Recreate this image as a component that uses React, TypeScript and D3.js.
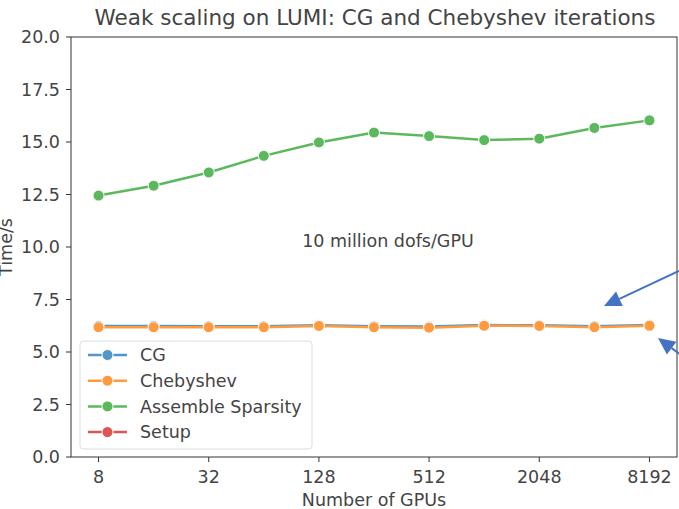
import React, { useEffect, useRef } from "react";
import * as d3 from "d3";

const gpus = [8, 16, 32, 64, 128, 256, 512, 1024, 2048, 4096, 8192];
const cgTimes = [6.24, 6.24, 6.23, 6.23, 6.27, 6.23, 6.21, 6.28, 6.27, 6.23, 6.29];
const chebTimes = [6.18, 6.18, 6.18, 6.18, 6.24, 6.18, 6.16, 6.25, 6.24, 6.18, 6.25];
const assembleTimes = [12.45, 12.92, 13.55, 14.34, 14.98, 15.45, 15.28, 15.09, 15.16, 15.67, 16.03];
const setupTimes: number[] = [];
const xTicks = [8, 32, 128, 512, 2048, 8192];
const yTicks = [0, 2.5, 5, 7.5, 10, 12.5, 15, 17.5, 20];

interface ISeries {
  name: string;
  color: string;
  values: number[];
}

const series: ISeries[] = [
  { name: "CG", color: "#5196c8", values: cgTimes },
  { name: "Chebyshev", color: "#ff9b3e", values: chebTimes },
  { name: "Assemble Sparsity", color: "#5cb85c", values: assembleTimes },
  { name: "Setup", color: "#de5556", values: setupTimes },
];

const font = "DejaVu Sans, sans-serif";
const textColor = "#444";
const fs = 17.5;

function App() {
  const ref = useRef<SVGSVGElement | null>(null);

  useEffect(() => {
    const svg = d3.select(ref.current);
    svg.selectAll("*").remove();

    const left = 71;
    const right = 677;
    const top = 37;
    const bottom = 457;

    const x = d3
      .scaleLog()
      .base(2)
      .domain([Math.pow(2, 2.5), Math.pow(2, 13.5)])
      .range([left, right]);
    const y = d3.scaleLinear().domain([0, 20]).range([bottom, top]);

    // frame
    svg
      .append("rect")
      .attr("x", left)
      .attr("y", top)
      .attr("width", right - left)
      .attr("height", bottom - top)
      .attr("fill", "white")
      .attr("stroke", "#333")
      .attr("stroke-width", 1);

    // y ticks
    yTicks.forEach((t) => {
      svg
        .append("line")
        .attr("x1", left - 5)
        .attr("x2", left)
        .attr("y1", y(t))
        .attr("y2", y(t))
        .attr("stroke", "#333");
      svg
        .append("text")
        .attr("x", left - 11)
        .attr("y", y(t))
        .attr("dy", "0.35em")
        .attr("text-anchor", "end")
        .attr("font-family", font)
        .attr("font-size", fs)
        .attr("fill", textColor)
        .text(t.toFixed(1));
    });

    // x ticks
    xTicks.forEach((t) => {
      svg
        .append("line")
        .attr("x1", x(t))
        .attr("x2", x(t))
        .attr("y1", bottom)
        .attr("y2", bottom + 5)
        .attr("stroke", "#333");
      svg
        .append("text")
        .attr("x", x(t))
        .attr("y", bottom + 26)
        .attr("text-anchor", "middle")
        .attr("font-family", font)
        .attr("font-size", fs)
        .attr("fill", textColor)
        .text(t.toString());
    });

    // axis labels + title
    svg
      .append("text")
      .attr("x", 374)
      .attr("y", 506)
      .attr("text-anchor", "middle")
      .attr("font-family", font)
      .attr("font-size", fs)
      .attr("fill", textColor)
      .text("Number of GPUs");

    svg
      .append("text")
      .attr("transform", "translate(12,247) rotate(-90)")
      .attr("text-anchor", "middle")
      .attr("font-family", font)
      .attr("font-size", fs)
      .attr("fill", textColor)
      .text("Time/s");

    svg
      .append("text")
      .attr("x", 375)
      .attr("y", 25)
      .attr("text-anchor", "middle")
      .attr("font-family", font)
      .attr("font-size", 21.5)
      .attr("fill", textColor)
      .text("Weak scaling on LUMI: CG and Chebyshev iterations");

    svg
      .append("text")
      .attr("x", 388)
      .attr("y", 247)
      .attr("text-anchor", "middle")
      .attr("font-family", font)
      .attr("font-size", fs)
      .attr("fill", textColor)
      .text("10 million dofs/GPU");

    // series
    const line = d3
      .line<number>()
      .x((d, i) => x(gpus[i]))
      .y((d) => y(d));

    series.forEach((s) => {
      if (s.values.length === 0) return;
      svg
        .append("path")
        .datum(s.values)
        .attr("d", line)
        .attr("fill", "none")
        .attr("stroke", s.color)
        .attr("stroke-width", 2.5);
      svg
        .selectAll(null)
        .data(s.values)
        .enter()
        .append("circle")
        .attr("cx", (d, i) => x(gpus[i]))
        .attr("cy", (d) => y(d))
        .attr("r", 5.5)
        .attr("fill", s.color)
        .attr("stroke", "white")
        .attr("stroke-width", 1);
    });

    // legend
    const lg = svg.append("g").attr("transform", "translate(80,341)");
    lg.append("rect")
      .attr("width", 232)
      .attr("height", 108)
      .attr("rx", 3)
      .attr("fill", "white")
      .attr("fill-opacity", 0.8)
      .attr("stroke", "#ddd");
    series.forEach((s, i) => {
      const ly = 14 + i * 25.7;
      lg.append("line")
        .attr("x1", 8)
        .attr("x2", 47)
        .attr("y1", ly)
        .attr("y2", ly)
        .attr("stroke", s.color)
        .attr("stroke-width", 2.5);
      lg.append("circle")
        .attr("cx", 27.5)
        .attr("cy", ly)
        .attr("r", 5.5)
        .attr("fill", s.color)
        .attr("stroke", "white")
        .attr("stroke-width", 1);
      lg.append("text")
        .attr("x", 60)
        .attr("y", ly)
        .attr("dy", "0.35em")
        .attr("font-family", font)
        .attr("font-size", fs)
        .attr("fill", textColor)
        .text(s.name);
    });

    // blue annotation arrows
    const arrowColor = "#4472c4";
    const arrows = [
      { x1: 679, y1: 271, x2: 604, y2: 306 },
      { x1: 681, y1: 355, x2: 658, y2: 338 },
    ];
    arrows.forEach((a) => {
      const ang = Math.atan2(a.y2 - a.y1, a.x2 - a.x1);
      const hl = 17;
      const hw = 8;
      const bx = a.x2 - hl * Math.cos(ang);
      const by = a.y2 - hl * Math.sin(ang);
      svg
        .append("line")
        .attr("x1", a.x1)
        .attr("y1", a.y1)
        .attr("x2", bx)
        .attr("y2", by)
        .attr("stroke", arrowColor)
        .attr("stroke-width", 2);
      const px = -Math.sin(ang) * hw;
      const py = Math.cos(ang) * hw;
      svg
        .append("path")
        .attr(
          "d",
          `M${a.x2},${a.y2}L${bx + px},${by + py}L${bx - px},${by - py}Z`
        )
        .attr("fill", arrowColor);
    });
  }, []);

  return (
    <svg
      ref={ref}
      width={679}
      height={509}
      style={{ position: "absolute", left: 0, top: 0, background: "white" }}
    />
  );
}

export default App;
